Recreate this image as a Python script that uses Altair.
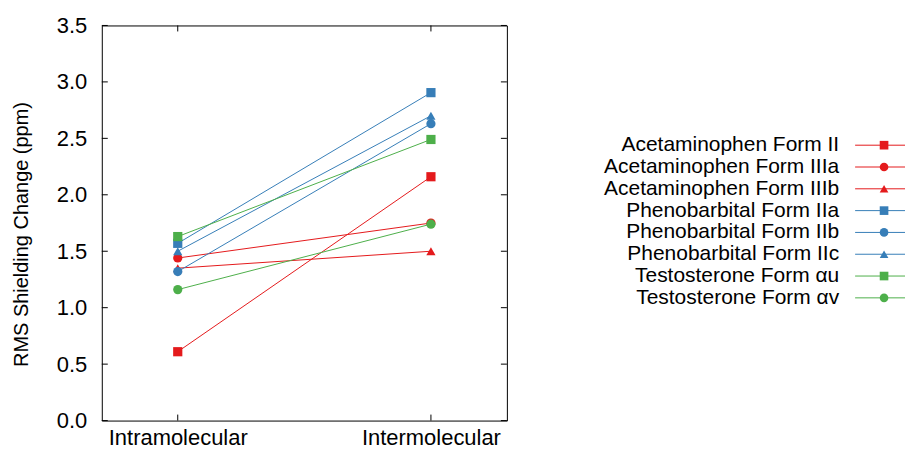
import altair as alt
import pandas as pd

series = [
    "Acetaminophen Form II",
    "Acetaminophen Form IIIa",
    "Acetaminophen Form IIIb",
    "Phenobarbital Form IIa",
    "Phenobarbital Form IIb",
    "Phenobarbital Form IIc",
    "Testosterone Form \u03b1u",
    "Testosterone Form \u03b1v",
]
colors = ["#e41a1c", "#e41a1c", "#e41a1c",
          "#377eb8", "#377eb8", "#377eb8",
          "#4daf4a", "#4daf4a"]
shapes = ["square", "circle", "triangle-up",
          "square", "circle", "triangle-up",
          "square", "circle"]
categories = ["Intramolecular", "Intermolecular"]
intra = [0.61, 1.44, 1.35, 1.57, 1.32, 1.50, 1.63, 1.16]
inter = [2.16, 1.75, 1.50, 2.905, 2.63, 2.70, 2.49, 1.74]
y_ticks = [0.0, 0.5, 1.0, 1.5, 2.0, 2.5, 3.0, 3.5]

rows = []
for s, a, b in zip(series, intra, inter):
    rows.append({"series": s, "cat": categories[0], "value": a})
    rows.append({"series": s, "cat": categories[1], "value": b})
df = pd.DataFrame(rows)

W, H = 406, 396
FONT = "Liberation Sans"
FS = 22
LFS = 21

xsc = alt.Scale(type="point", domain=categories, padding=0.3)
ysc = alt.Scale(domain=[0, 3.5], nice=False, zero=False)
csc = alt.Scale(domain=series, range=colors)
ssc = alt.Scale(domain=series, range=shapes)

x_enc = alt.X("cat:N", scale=xsc, sort=categories,
              axis=alt.Axis(title=None, ticks=False, tickSize=0, domain=False,
                            labelAngle=0, labelPadding=7, labelFontSize=FS,
                            labelFont=FONT, labelColor="black", grid=False))
y_enc = alt.Y("value:Q", scale=ysc,
              axis=alt.Axis(title="RMS Shielding Change (ppm)", values=y_ticks,
                            format=".1f", ticks=False, tickSize=0, domain=False,
                            labelPadding=15, labelFontSize=FS, labelFont=FONT,
                            labelColor="black", titleFontSize=20, titleFont=FONT,
                            titleFontWeight="normal", titleColor="black",
                            titlePadding=25, titleY=209, grid=False))

lines = alt.Chart(df).mark_line(strokeWidth=1).encode(
    x=x_enc, y=y_enc,
    color=alt.Color("series:N", scale=csc, legend=None),
    detail="series:N",
)
points = alt.Chart(df).mark_point(filled=True, size=85, opacity=1).encode(
    x=alt.X("cat:N", scale=xsc, sort=categories),
    y=alt.Y("value:Q", scale=ysc),
    color=alt.Color("series:N", scale=csc, legend=None),
    shape=alt.Shape("series:N", scale=ssc, legend=None),
)

ytick_df = pd.DataFrame({"value": y_ticks})
xtick_df = pd.DataFrame({"cat": categories})
yt_left = alt.Chart(ytick_df).mark_rule(color="black", strokeWidth=1).encode(
    y=alt.Y("value:Q", scale=ysc), x=alt.value(0), x2=alt.value(6))
yt_right = alt.Chart(ytick_df).mark_rule(color="black", strokeWidth=1).encode(
    y=alt.Y("value:Q", scale=ysc), x=alt.value(W - 6), x2=alt.value(W))
xt_bot = alt.Chart(xtick_df).mark_rule(color="black", strokeWidth=1).encode(
    x=alt.X("cat:N", scale=xsc, sort=categories), y=alt.value(H - 6), y2=alt.value(H))
xt_top = alt.Chart(xtick_df).mark_rule(color="black", strokeWidth=1).encode(
    x=alt.X("cat:N", scale=xsc, sort=categories), y=alt.value(0), y2=alt.value(6))

plot = alt.layer(lines, points, yt_left, yt_right, xt_bot, xt_top).properties(
    width=W, height=H, view=alt.ViewBackground(stroke="black", strokeWidth=1))

leg_df = pd.DataFrame({"series": series})
lysc = alt.Scale(type="point", domain=series, range=[120, 273], padding=0)
LW = 398
leg_text = alt.Chart(leg_df).mark_text(align="right", baseline="middle",
                                       fontSize=LFS, font=FONT, color="black").encode(
    y=alt.Y("series:N", scale=lysc, axis=None, sort=series),
    x=alt.value(332), text="series:N")
leg_line = alt.Chart(leg_df).mark_rule(strokeWidth=1).encode(
    y=alt.Y("series:N", scale=lysc, axis=None, sort=series),
    x=alt.value(348), x2=alt.value(LW),
    color=alt.Color("series:N", scale=csc, legend=None))
leg_pt = alt.Chart(leg_df).mark_point(filled=True, size=75, opacity=1).encode(
    y=alt.Y("series:N", scale=lysc, axis=None, sort=series),
    x=alt.value(377),
    color=alt.Color("series:N", scale=csc, legend=None),
    shape=alt.Shape("series:N", scale=ssc, legend=None))
legend = alt.layer(leg_line, leg_pt, leg_text).properties(
    width=LW, height=H, view=alt.ViewBackground(stroke=None))

chart = alt.hconcat(plot, legend, spacing=0).properties(
    padding={"left": 2, "top": 5, "right": 0, "bottom": 5}
)

chart.save("out.html", embed_options={"renderer": "svg", "actions": False})
